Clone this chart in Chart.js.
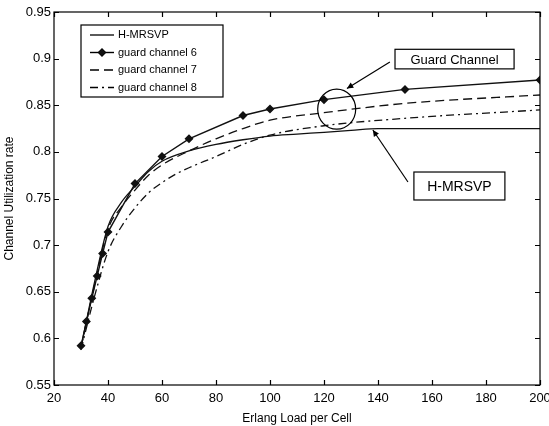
<!DOCTYPE html>
<html><head><meta charset="utf-8">
<script src="https://cdn.jsdelivr.net/npm/chart.js@4/dist/chart.umd.min.js"></script>
<style>html,body{margin:0;padding:0;background:#fff;}</style>
</head><body>
<canvas id="c" width="549" height="426"></canvas>
<script>
// ---- data ----
const seriesNames = ['H-MRSVP', 'guard channel 6', 'guard channel 7', 'guard channel 8'];

const hmrsvpX = [30, 35, 40, 45, 50, 55, 60, 70, 80, 90, 100, 110, 120, 130, 140, 150, 200];
const hmrsvpY = [0.590, 0.660, 0.720, 0.746, 0.763, 0.779, 0.790, 0.801, 0.808, 0.813, 0.817, 0.819, 0.821, 0.823, 0.825, 0.825, 0.825];

const gc6X = [30, 32, 34, 36, 38, 40, 50, 60, 70, 90, 100, 120, 150, 200];
const gc6Y = [0.592, 0.618, 0.643, 0.667, 0.691, 0.714, 0.766, 0.795, 0.814, 0.839, 0.846, 0.856, 0.867, 0.877];

const gc7X = [30, 35, 40, 45, 50, 55, 60, 70, 80, 90, 100, 120, 150, 200];
const gc7Y = [0.590, 0.657, 0.717, 0.741, 0.759, 0.775, 0.786, 0.801, 0.814, 0.825, 0.834, 0.842, 0.852, 0.861];

const gc8X = [30, 35, 40, 45, 50, 55, 60, 65, 70, 80, 90, 100, 120, 150, 200];
const gc8Y = [0.588, 0.645, 0.693, 0.720, 0.740, 0.756, 0.767, 0.776, 0.783, 0.795, 0.808, 0.818, 0.828, 0.836, 0.845];

const xTickValues = [20, 40, 60, 80, 100, 120, 140, 160, 180, 200];
const xTickLabels = ['20', '40', '60', '80', '100', '120', '140', '160', '180', '200'];
const yTickValues = [0.55, 0.6, 0.65, 0.7, 0.75, 0.8, 0.85, 0.9, 0.95];
const yTickLabels = ['0.55', '0.6', '0.65', '0.7', '0.75', '0.8', '0.85', '0.9', '0.95'];

const xTitle = 'Erlang Load per Cell';
const yTitle = 'Channel Utilization rate';
const noteGuard = 'Guard Channel';
const noteHM = 'H-MRSVP';

// ---- build datasets ----
const pts = (xs, ys) => xs.map((x, i) => ({x: x, y: ys[i]}));
const FONT = "'Liberation Sans', Arial, sans-serif";

const datasets = [
  {label: seriesNames[0], data: pts(hmrsvpX, hmrsvpY), borderColor: '#111', borderWidth: 1.3,
   pointRadius: 0, cubicInterpolationMode: 'monotone', borderDash: []},
  {label: seriesNames[1], data: pts(gc6X, gc6Y), borderColor: '#111', borderWidth: 1.4,
   pointRadius: 3.5, pointStyle: 'rectRot', pointBackgroundColor: '#111', pointBorderColor: '#111',
   tension: 0, borderDash: []},
  {label: seriesNames[2], data: pts(gc7X, gc7Y), borderColor: '#111', borderWidth: 1.3,
   pointRadius: 0, cubicInterpolationMode: 'monotone', borderDash: [9, 5]},
  {label: seriesNames[3], data: pts(gc8X, gc8Y), borderColor: '#111', borderWidth: 1.3,
   pointRadius: 0, cubicInterpolationMode: 'monotone', borderDash: [8, 4, 2, 4]}
];

const decor = {
  id: 'decor',
  afterDatasetsDraw(chart) {
    const ctx = chart.ctx, ca = chart.chartArea;
    const xs = chart.scales.x, ys = chart.scales.y;
    ctx.save();
    // axes box
    ctx.strokeStyle = '#000'; ctx.lineWidth = 1.2; ctx.setLineDash([]);
    ctx.strokeRect(ca.left, ca.top, ca.right - ca.left, ca.bottom - ca.top);
    // inward ticks
    const tl = 5;
    ctx.beginPath();
    xTickValues.forEach(v => {
      const p = Math.round(xs.getPixelForValue(v)) + 0.5;
      ctx.moveTo(p, ca.bottom); ctx.lineTo(p, ca.bottom - tl);
      ctx.moveTo(p, ca.top); ctx.lineTo(p, ca.top + tl);
    });
    yTickValues.forEach(v => {
      const p = Math.round(ys.getPixelForValue(v)) + 0.5;
      ctx.moveTo(ca.left, p); ctx.lineTo(ca.left + tl, p);
      ctx.moveTo(ca.right, p); ctx.lineTo(ca.right - tl, p);
    });
    ctx.stroke();

    // legend
    const lx = ca.left + 27, ly = ca.top + 13, lw = 142, lh = 72;
    ctx.fillStyle = '#fff';
    ctx.fillRect(lx, ly, lw, lh);
    ctx.lineWidth = 1.2; ctx.strokeStyle = '#000';
    ctx.strokeRect(lx, ly, lw, lh);
    ctx.font = '11px ' + FONT; ctx.fillStyle = '#000';
    ctx.textBaseline = 'middle'; ctx.textAlign = 'left';
    chart.data.datasets.forEach((ds, i) => {
      const yy = ly + 10 + i * 17.5;
      ctx.beginPath();
      ctx.setLineDash(ds.borderDash || []);
      ctx.lineWidth = ds.borderWidth;
      ctx.moveTo(lx + 9, yy); ctx.lineTo(lx + 33, yy);
      ctx.stroke();
      ctx.setLineDash([]);
      if (ds.pointRadius > 0) {
        Chart.helpers.drawPoint(ctx, {pointStyle: ds.pointStyle, radius: ds.pointRadius, borderWidth: 1, rotation: 0}, lx + 21, yy);
        ctx.fillStyle = '#111'; ctx.fill();
      }
      ctx.fillStyle = '#000';
      ctx.fillText(ds.label, lx + 37, yy);
    });

    // annotation helpers
    const X = v => xs.getPixelForValue(v), Y = v => ys.getPixelForValue(v);
    const arrow = (x1, y1, x2, y2) => {
      ctx.beginPath(); ctx.lineWidth = 1.2; ctx.moveTo(x1, y1); ctx.lineTo(x2, y2); ctx.stroke();
      const a = Math.atan2(y2 - y1, x2 - x1), L = 7, w = 0.45;
      ctx.beginPath();
      ctx.moveTo(x2, y2);
      ctx.lineTo(x2 - L * Math.cos(a - w), y2 - L * Math.sin(a - w));
      ctx.lineTo(x2 - L * Math.cos(a + w), y2 - L * Math.sin(a + w));
      ctx.closePath(); ctx.fillStyle = '#000'; ctx.fill();
    };
    const boxText = (x1, y1, x2, y2, txt, size) => {
      const px1 = X(x1), py1 = Y(y1), px2 = X(x2), py2 = Y(y2);
      ctx.fillStyle = '#fff'; ctx.fillRect(px1, py1, px2 - px1, py2 - py1);
      ctx.lineWidth = 1.2; ctx.strokeStyle = '#000';
      ctx.strokeRect(px1, py1, px2 - px1, py2 - py1);
      ctx.fillStyle = '#000'; ctx.font = size + 'px ' + FONT;
      ctx.textAlign = 'center'; ctx.textBaseline = 'middle';
      ctx.fillText(txt, (px1 + px2) / 2, (py1 + py2) / 2 + 1);
    };

    // Guard Channel note, arrow and circle
    boxText(146.3, 0.910, 190.4, 0.889, noteGuard, 13);
    arrow(X(144.4), Y(0.8964), X(128.5), Y(0.868));
    ctx.beginPath(); ctx.lineWidth = 1.2;
    ctx.ellipse(X(124.7), Y(0.8458), 19, 20, 0, 0, Math.PI * 2);
    ctx.stroke();

    // H-MRSVP note and arrow
    boxText(153.3, 0.7784, 187.0, 0.7484, noteHM, 14);
    arrow(X(151.1), Y(0.7677), X(138.1), Y(0.8235));
    ctx.restore();
  }
};

new Chart(document.getElementById('c'), {
  type: 'line',
  data: {datasets: datasets},
  options: {
    responsive: false, animation: false, devicePixelRatio: 1,
    layout: {padding: {left: 0, right: 0, top: 12, bottom: 0}},
    plugins: {legend: {display: false}, tooltip: {enabled: false}},
    elements: {line: {fill: false}},
    scales: {
      x: {
        type: 'linear', min: 20, max: 200,
        afterBuildTicks: s => { s.ticks = xTickValues.map(v => ({value: v})); },
        afterFit: s => { s.height = 41; s.paddingRight = 9; },
        ticks: {callback: (v) => xTickLabels[xTickValues.indexOf(v)], color: '#000',
                font: {family: FONT, size: 13}, padding: 6, maxRotation: 0, autoSkip: false},
        grid: {display: false, drawTicks: false},
        border: {display: false},
        title: {display: true, text: xTitle, color: '#000', font: {family: FONT, size: 12},
                padding: {top: 1, bottom: 0}}
      },
      y: {
        type: 'linear', min: 0.55, max: 0.95,
        afterBuildTicks: s => { s.ticks = yTickValues.map(v => ({value: v})); },
        afterFit: s => { s.width = 54; },
        ticks: {callback: (v) => yTickLabels[yTickValues.findIndex(t => Math.abs(t - v) < 1e-9)], color: '#000',
                font: {family: FONT, size: 13}, padding: 3, autoSkip: false},
        grid: {display: false, drawTicks: false},
        border: {display: false},
        title: {display: true, text: yTitle, color: '#000', font: {family: FONT, size: 12},
                padding: {top: 2, bottom: 0}}
      }
    }
  },
  plugins: [decor]
});
</script>
</body></html>
